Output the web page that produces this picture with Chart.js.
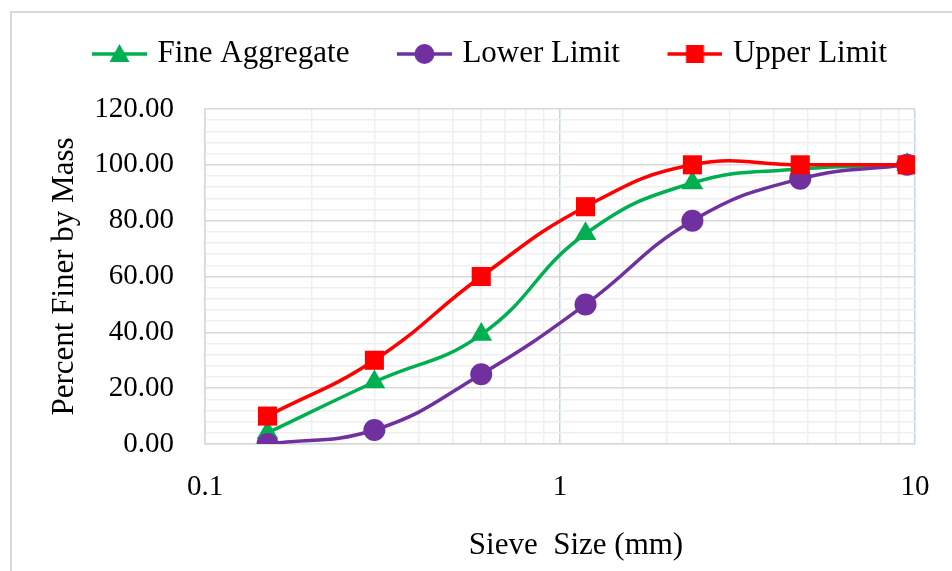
<!DOCTYPE html>
<html>
<head>
<meta charset="utf-8">
<title>Sieve Analysis</title>
<script src="https://cdn.jsdelivr.net/npm/chart.js@4.4.0/dist/chart.umd.min.js"></script>
<style>
  body { margin: 0; background: #fff; }
  canvas { display: block; }
</style>
</head>
<body>
<canvas id="grading" width="952" height="571"></canvas>
<script>
// sieve sizes (mm) and percent passing
let sieve_sizes = [0.15, 0.3, 0.6, 1.18, 2.36, 4.75, 9.5];
let fine_aggregate = [4, 22.2, 39.2, 75.3, 93.5, 98.5, 100];
let lower_limit = [0, 5, 25, 50, 80, 95, 100];
let upper_limit = [10, 30, 60, 85, 100, 100, 100];
let x_tick_labels = [0.1, 1, 10];
let y_tick_labels = [0, 20, 40, 60, 80, 100, 120];
let x_title = "Sieve  Size (mm)";

let green = "#00b050", purple = "#7030a0", red = "#ff0000";
let serif = "'Liberation Serif', 'Times New Roman', serif";

const toPoints = (values) => sieve_sizes.map((size, i) => ({ x: size, y: values[i] }));
const isDecade = (v) => Math.abs(Math.log10(v) - Math.round(Math.log10(v))) < 1e-6;

// legend symbol: a short line with the marker in the middle
const legendSymbol = (color, style) => {
  let c = document.createElement("canvas");
  c.width = 72; c.height = 26;
  let ctx = c.getContext("2d");
  ctx.strokeStyle = color;
  ctx.fillStyle = color;
  ctx.lineWidth = 3.5;
  ctx.beginPath();
  ctx.moveTo(17, 13);
  ctx.lineTo(72, 13);
  ctx.stroke();
  let cx = 44.5, cy = 13;
  ctx.beginPath();
  if (style === "triangle") {
    ctx.moveTo(cx, cy - 10);
    ctx.lineTo(cx + 10, cy + 8);
    ctx.lineTo(cx - 10, cy + 8);
    ctx.closePath();
  } else if (style === "circle") {
    ctx.arc(cx, cy, 10, 0, Math.PI * 2);
  } else {
    ctx.rect(cx - 9, cy - 9, 18, 18);
  }
  ctx.fill();
  return c;
};

let symbols = [
  legendSymbol(green, "triangle"),
  legendSymbol(purple, "circle"),
  legendSymbol(red, "rect")
];

// outer frame, fixed legend height and the x axis title
const framePlugin = {
  id: "frame",
  beforeInit: (chart) => {
    let legend = chart.legend;
    let fit = legend.fit;
    legend.fit = function () {
      fit.call(this);
      this.height = 109;
    };
  },
  afterLayout: (chart) => {
    // nudge the legend row a bit right and down
    chart.legend.left += 26;
    chart.legend.right += 26;
    chart.legend.top += 3;
  },
  beforeDraw: (chart) => {
    let ctx = chart.ctx;
    ctx.save();
    ctx.strokeStyle = "#d9d9d9";
    ctx.lineWidth = 2;
    ctx.strokeRect(11, 12, 1000, 600);
    ctx.restore();
  },
  afterDraw: (chart) => {
    let ctx = chart.ctx;
    ctx.save();
    ctx.fillStyle = "#000";
    ctx.font = "31px " + serif;
    ctx.textAlign = "center";
    ctx.textBaseline = "middle";
    ctx.fillText(x_title, chart.chartArea.left + 371, 546);
    ctx.restore();
  }
};

let chart = document.querySelector("#grading");
new Chart(chart, {
  type: "line",
  data: {
    datasets: [
      {
        label: "Fine Aggregate",
        data: toPoints(fine_aggregate),
        borderColor: green,
        backgroundColor: green,
        pointStyle: "triangle",
        pointRadius: 12.5,
        order: 2
      },
      {
        label: "Lower Limit",
        data: toPoints(lower_limit),
        borderColor: purple,
        backgroundColor: purple,
        pointStyle: "circle",
        pointRadius: 11,
        order: 1
      },
      {
        label: "Upper Limit",
        data: toPoints(upper_limit),
        borderColor: red,
        backgroundColor: red,
        pointStyle: "rect",
        pointRadius: 13.5,
        order: 0
      }
    ]
  },
  options: {
    responsive: false,
    animation: false,
    devicePixelRatio: 1,
    layout: { padding: { left: 0, right: 37, top: 0, bottom: 0 } },
    elements: {
      line: { borderWidth: 3.5, tension: 0.45, fill: false },
      point: { borderWidth: 0, hoverRadius: 12 }
    },
    plugins: {
      tooltip: { enabled: false },
      legend: {
        position: "top",
        labels: {
          usePointStyle: true,
          pointStyleWidth: 62,
          padding: 35.5,
          color: "#000",
          font: { family: serif, size: 31 },
          generateLabels: (c) => c.data.datasets.map((ds, i) => ({
            text: ds.label,
            pointStyle: symbols[i],
            fillStyle: ds.borderColor,
            strokeStyle: ds.borderColor,
            lineWidth: 0,
            hidden: false,
            datasetIndex: i,
            fontColor: "#000"
          }))
        }
      }
    },
    scales: {
      x: {
        type: "logarithmic",
        min: 0.1,
        max: 10,
        afterFit: (s) => {
          s.height = 127;
          s.paddingLeft = 0;
          s.paddingRight = 0;
        },
        border: { color: "#d9d9d9", width: 1.5 },
        grid: {
          drawTicks: false,
          lineWidth: 1.5,
          color: (ctx) => isDecade(ctx.tick.value) ? "#bdd7ee" : "#efefef"
        },
        ticks: {
          autoSkip: false,
          maxRotation: 0,
          padding: 26,
          color: "#000",
          font: { family: serif, size: 29 },
          callback: (v) => x_tick_labels.find((t) => Math.abs(t - v) < 1e-9) !== undefined ? String(v) : ""
        }
      },
      y: {
        min: 0,
        max: 120,
        afterFit: (s) => { s.width = 205; },
        border: { color: "#d9d9d9", width: 1.5 },
        grid: {
          drawTicks: false,
          lineWidth: 1.5,
          color: (ctx) => y_tick_labels.includes(ctx.tick.value) ? "#d9d9d9" : "#efefef"
        },
        ticks: {
          stepSize: 4,
          autoSkip: false,
          padding: 31,
          color: "#000",
          font: { family: serif, size: 29 },
          callback: (v) => y_tick_labels.includes(v) ? v.toFixed(2) : ""
        },
        title: {
          display: true,
          text: "Percent Finer by Mass",
          color: "#000",
          font: { family: serif, size: 31 },
          padding: { top: 46, bottom: 0 }
        }
      }
    }
  },
  plugins: [framePlugin]
});
</script>
</body>
</html>
